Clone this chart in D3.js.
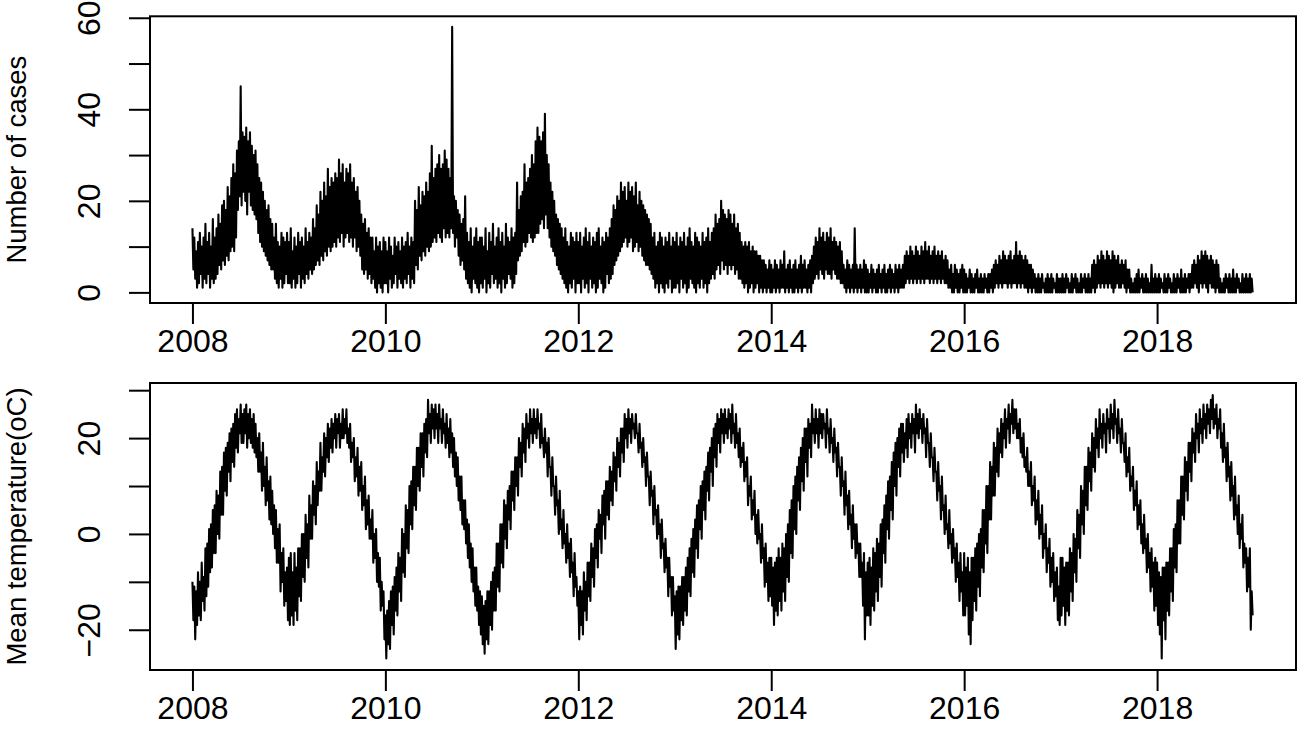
<!DOCTYPE html>
<html><head><meta charset="utf-8">
<script src="https://cdn.jsdelivr.net/npm/d3@7"></script>
<style>body{margin:0;background:#fff} svg{display:block}</style>
</head><body><svg id="c" width="1300" height="745"></svg>
<script>
// Weekly high / low readings (52 weeks per year) starting 2008
const startYear = 2008, perYear = 52;

const casesHigh = [
// 2008
14,12,9,11,13,10,12,15,11,13,10,16,12,14, 17,15,19,20,18,23,21,25,28,26, 31,33,45,35,34,36,33,35,32,30,31, 28,25,24,22,20,18,19,16,15, 12,15,11,10,13,12,11,13,
// 2009
11,14,9,12,10,13,11,12,10,14,11,13,12, 16,14,19,17,22,20,24,21,27,23,25,24,26, 25,29,26,28,24,27,26,28,24,25,22,23,20, 17,15,16,13,14,12,12, 9,12,10,11,9,12,
// 2010
11,9,12,10,8,12,10,11,9,12,10,11,13,10,12,11, 20,18,23,19,22,21,24,22,26,32,25,27,28,30,27,28,31,29,27,25, 58, 21,20,18,17,15,16, 21,13,11,14,10,12,14,11,12,
// 2011
12,10,14,9,13,11,15,10,12,14,11,13,10,15,12,11,14,12,13, 24,18,21,22,28,24,25,27,30,28,33, 36,34,33,35,39,30,28, 24,22,20,17,16,15,14, 12,14,11,10,13,12,11,13,
// 2012
11,13,10,12,14,11,13,10,12,11,13,14,10,12,11,13,12,14, 16,19,18,21,20,24,22,23,20,24,22,23,21,24,19,22,20,19,18,17,16,15, 12,13,10,11,13,12,10,12,11,13,10,12,
// 2013
11,13,10,12,11,13,10,12,14,11,10,13,12,11,10,13,11,12,14,11,13,14, 17,15,16,20,18,17,16,18,17,15,17,14,15,13, 11,10,11,10,11,9,10,9,9,8,8,7,7, 6,5,7,
// 2014
6,5,7,6,5,7,6,9,5,6,7,5,6,7,5,6,8,6,7,5,6,7,8, 10,12,11,14,12,13,11,13,12,14,11,12,11,10,11,9, 6,5,7,6,5,6,14,6,5,6,5,7,6,
// 2015
5,4,6,5,4,5,6,4,5,6,4,5,6,5,4,6,5,6,5,6, 8,9,8,10,9,8,10,9,8,10,9,11,9,10,8,9,10,8,9,8,9,7,8,7, 5,6,4,6,5,4,5,6,
// 2016
5,4,3,5,4,3,4,5,3,4,3,4,3,4,4,5, 6,7,6,8,7,9,8,7,8,9,7,8,11,8,9,8,7,8,7,6,6,5, 4,3,4,3,4,2,3,4,3,4,3,2,4,3,
// 2017
3,4,3,4,3,2,4,3,4,3,2,4,3,4,3,4,3, 6,7,6,8,7,9,8,7,9,8,7,9,8,7,8,6,7,6,7,5,5, 3,2,3,4,5,3,4,3,4,3,2,6,3,4,
// 2018
3,4,3,2,4,3,4,3,2,4,3,4,3,5,3,4,3,4,4, 6,7,6,8,7,9,8,9,8,7,8,7,6,7,6, 3,2,3,4,3,4,3,5,3,4,3,2,4,3,4,3,4,3
];

const casesLow = [
// 2008
5,3,1,2,4,1,3,2,4,1,3,2,3,4, 6,5,7,6,8,7,9,10,9,12, 18,21,19,22,20,17,22,19,18,17,16, 13,11,10,9,8,7,6,5,5, 3,2,1,3,1,2,4,2,
// 2009
2,1,3,1,2,4,1,3,2,4,3,5,4, 5,6,7,6,8,7,9,8,10,9,10,11,10, 12,11,13,10,12,13,11,12,10,12,9,10,8, 5,4,5,3,4,2,3, 1,0,2,1,0,2,
// 2010
2,0,3,1,2,4,1,3,2,1,3,2,4,1,3,2, 6,5,8,7,9,8,10,9,10,11,12,11,13,12,11,14,12,13,12,14, 13, 10,12,8,6,7,5, 3,2,1,0,3,2,1,0,2,
// 2011
1,3,0,2,1,4,2,3,1,2,0,3,1,2,4,3,1,2,4, 7,8,9,11,10,11,13,12,11,12,13, 13,15,16,14,17,14,12, 10,9,8,6,5,4,3, 2,1,0,2,1,3,0,2,
// 2012
2,0,3,1,2,0,3,1,2,0,1,3,2,0,1,4,2,3, 4,6,7,8,9,10,11,12,10,11,12,9,10,11,9,10,8,7,6,6,5,4, 3,1,2,0,2,1,0,2,1,3,0,1,
// 2013
1,2,0,3,1,2,0,1,3,2,1,0,2,1,3,1,2,0,2,3,4,3, 5,6,4,7,5,6,4,6,5,6,4,5,3,3, 2,1,2,0,1,2,0,1,2,0,1,0,1, 0,1,0,
// 2014
0,1,0,1,0,1,1,0,1,0,1,0,0,1,0,1,0,1,1,0,1,0,2, 3,4,3,5,4,3,5,4,4,3,5,4,3,3,2,2, 1,0,1,0,1,0,1,0,1,0,1,0,0,
// 2015
0,1,0,1,0,0,1,0,1,0,0,1,0,1,0,1,0,1,1,1, 2,3,2,3,2,3,2,3,2,3,2,3,3,2,3,2,3,2,3,2,3,2,2,1, 1,0,0,1,0,0,1,0,
// 2016
0,0,1,0,0,0,1,0,0,0,0,1,0,0,1,0, 1,2,1,2,1,2,2,1,2,1,2,2,1,2,1,2,1,1,0,1,0,1, 0,0,0,0,1,0,0,0,0,0,1,0,0,0,
// 2017
0,0,0,1,0,0,0,1,0,0,0,0,1,0,0,0,0, 1,0,1,2,1,2,1,2,1,2,1,0,1,2,1,1,2,1,0,1,0, 0,0,0,0,0,1,0,0,0,0,0,0,0,0,
// 2018
0,0,1,0,0,0,1,0,0,0,0,1,0,0,0,0,1,0,1, 1,2,1,0,2,1,2,1,0,2,1,1,0,1,0, 0,0,0,1,0,0,0,0,0,1,0,0,0,0,0,0,0,0
];

const tempHigh = [
// 2008
-10,-11,-12,-8,-10,-6,-9,-3, -2,1,2,5,6,9,8,13, 14,17,18,19,21,22,23,25, 26,24,27,25,26,27,25,26,24, 25,23,20,21,17,19,14,16,11,12, 9,6,5,1,2,-4,-3,-8,-7,
// 2009
-5,-4,-8,-4,-7,-3, -3,0,0,4,2,8,6,11,10, 15,13,19,16,21,20,23,22,24, 23,25,24,25,23,26,24,26,22, 23,19,20,16,18,14,15,10,12,7, 8,3,5,0,1,-4,-5,-10,-12,
// 2010
-17,-16,-14,-12,-11,-9,-7, -4,-5,1,0,6,5,10, 11,14,14,18,18,21,21, 23,24,28,25,27,26,27, 25,27,24,26,23,25,22,24,21, 20,17,16,12,12,7,7, 3,2,-2,-3,-7,-7,-11,-12,
// 2011
-13,-15,-14,-12,-12,-10,-8, -7,-2,-2,2,2,7,6, 9,10,13,13,16,16,20, 19,23,22,25,23,26,24, 26,24,26,23,25,20,22, 19,20,14,16,10,12,7,9,3, 5,0,2,-2,-1,-6,-4,-9,
// 2012
-12,-11,-12,-8,-10,-6,-6, -2,-3,1,2,5,4,8, 9,11,11,14,13,17,16, 20,19,22,22,25,24,26, 24,25,23,25,21,23,19, 20,16,17,12,13,9,10,5,6, 2,3,-2,-1,-5,-5,-9,-9,
// 2013
-13,-12,-11,-11,-9,-9,-7, -5,-3,-1,1,3,6,7, 10,11,13,14,17,18,20, 22,23,25,24,26,25,26, 24,26,25,27,23,25,21, 22,18,19,15,16,10,12,7,9, 4,5,0,2,-3,-2,-6,-5,
// 2014
-5,-7,-6,-5,-3,-5,-2, -3,0,2,5,7,10,12, 14,16,18,20,22,22,24, 23,27,24,26,24,26,25, 25,23,26,22,24,20,22, 18,19,14,16,11,13,8,9,4, 6,2,2,-2,-2,-6,-4,-8,
// 2015
-6,-5,-7,-3,-4,-1,-2, 2,3,6,8,11,12,15, 17,19,20,22,23,23,21, 24,25,23,25,24,27,25, 26,24,25,22,24,19,21, 16,18,13,15,10,12,6,8,2, 5,0,1,-3,-2,-6,-4,-8,
// 2016
-4,-7,-5,-8,-5,-5,-3, -2,0,1,5,5,10,10, 15,14,19,18,22,21,24, 23,26,24,27,25,28,26, 26,23,24,20,21,16,18, 13,15,10,12,7,9,4,6,0, 2,-3,-1,-5,-4,-8,-7,-11,
// 2017
-5,-5,-7,-6,-6,-3,-4, 0,-1,5,4,10,9,14, 14,18,17,21,20,24,22, 26,23,25,23,26,24,27, 25,28,24,26,22,24,19, 21,16,18,12,14,9,11,6,7, 2,4,-1,0,-4,-3,-6,-5,
// 2018
-6,-8,-9,-7,-7,-6,-6, -3,-3,1,2,7,7,12, 12,16,15,19,19,22,21, 25,23,26,24,27,25,27, 26,28,29,26,27,24,26, 21,23,18,19,14,15,10,12,6, 8,2,4,-2,-3,-5,-3,-12
];

const tempLow = [
// 2008
-18,-22,-19,-17,-18,-14,-16,-13, -11,-8,-7,-4,-4,0,-1,4, 4,9,8,13,11,15,14,18, 17,21,19,19,21,18,20,19,18, 17,16,13,13,9,10,6,7,3,2, 0,-3,-6,-6,-12,-10,-15,-14,-18,
// 2009
-19,-17,-19,-16,-18,-13, -14,-9,-10,-5,-7,-1,-1,4,2, 6,9,9,13,12,16,15,18,17, 20,18,21,18,20,20,21,19,18, 15,16,11,12,8,9,5,6,1,2, -1,-1,-6,-5,-10,-11,-16,-15,-22,
// 2010
-26,-23,-24,-19,-21,-16,-17, -12,-14,-8,-9,-3,-4,2, 1,6,5,10,9,14,12, 17,16,21,19,22,20,22, 19,22,19,21,18,19,16,17,14, 12,10,7,5,2,1,-2, -5,-7,-10,-12,-15,-16,-19,-21,
// 2011
-23,-25,-22,-23,-19,-20,-16, -16,-11,-12,-6,-7,-1,-3, 3,1,7,5,10,8,14, 12,17,15,20,18,21,19, 21,20,22,18,19,16,17, 12,14,8,10,4,6,0,1,-3, -2,-6,-5,-9,-8,-13,-11,-15,
// 2012
-22,-19,-21,-16,-18,-13,-14, -9,-11,-5,-7,-1,-4,2, -1,4,3,7,6,11,9, 14,12,17,15,20,18,21, 19,22,20,21,17,18,14, 15,10,12,6,8,2,4,-1,0, -5,-3,-8,-7,-13,-11,-17,-16,
// 2013
-24,-21,-22,-18,-19,-16,-17, -12,-13,-8,-9,-3,-5,1, -1,5,3,9,7,13,10, 16,14,19,17,21,19,21, 20,22,19,21,18,19,16, 14,15,11,12,6,8,3,4,0, -2,-1,-6,-5,-11,-10,-14,-13,
// 2014
-15,-19,-16,-17,-14,-16,-12, -14,-9,-10,-4,-5,1,0, 7,5,11,9,15,12,18, 16,21,19,21,18,21,20, 22,18,21,17,19,15,17, 12,14,8,10,4,6,1,2,-3, -1,-5,-4,-9,-9,-15,-22,-17,
// 2015
-17,-19,-15,-16,-12,-14,-9, -11,-4,-6,1,-1,5,3, 10,8,14,12,17,15,18, 16,20,18,21,17,21,20, 22,19,21,16,19,14,16, 11,13,7,9,3,5,0,1,-3, -2,-6,-5,-10,-9,-14,-12,-17,
// 2016
-17,-15,-21,-23,-18,-14,-16, -11,-13,-7,-8,-2,-4,3, 3,8,8,13,12,17,16, 20,18,22,19,23,21,22, 20,20,17,16,14,13,10, 10,6,7,2,3,-1,0,-5,-3, -8,-6,-11,-10,-14,-13,-18,-19,
// 2017
-17,-15,-19,-16,-17,-12,-14, -8,-10,-3,-5,2,0,6, 5,11,9,14,13,18,16, 20,18,21,17,22,19,22, 20,23,19,21,17,19,15, 12,13,9,10,5,6,1,2,-2, -4,-3,-8,-7,-12,-11,-16,-15,
// 2018
-19,-21,-26,-18,-22,-16,-17, -12,-14,-7,-8,-2,-2,4, 3,9,7,13,11,17,15, 20,17,21,19,22,20,23, 21,24,22,23,20,22,18, 15,16,11,12,7,8,3,4,0, -3,-1,-7,-6,-12,-11,-20,-17
];

const yearTicks = [2008, 2010, 2012, 2014, 2016, 2018];
const caseTicks = [0, 10, 20, 30, 40, 50, 60];
const caseLabels = [0, 20, 40, 60];
const tempTicks = [-20, -10, 0, 10, 20, 30];
const tempLabels = [-20, 0, 20];
const caseTitle = "Number of cases";
const tempTitle = "Mean temperature(oC)";

const svg = d3.select("#c");
const font = "'Liberation Sans', Arial, Helvetica, sans-serif";
const L = 150, R = 1296;
const x = d3.scaleLinear().domain([2007.56, 2019.44]).range([L, R]);
const timeOf = i => startYear + i / perYear;
const fmt = d3.format("d");

function panel(high, low, top, bottom, domain, ticks, labels, title) {
  const y = d3.scaleLinear().domain(domain).range([bottom, top]);
  const g = svg.append("g");

  // weekly high then low reading, in time order
  const pts = d3.range(high.length).flatMap(i => [
    [timeOf(i), high[i]], [timeOf(i + 0.5), low[i]]
  ]);
  g.append("path").datum(pts)
    .attr("d", d3.line().x(d => x(d[0])).y(d => y(d[1])))
    .attr("fill", "none").attr("stroke", "#000")
    .attr("stroke-width", 2.1).attr("stroke-linejoin", "round");

  g.append("rect").attr("x", L).attr("y", top)
    .attr("width", R - L).attr("height", bottom - top)
    .attr("fill", "none").attr("stroke", "#000").attr("stroke-width", 2);

  const ya = g.append("g").attr("transform", `translate(${L},0)`)
    .call(d3.axisLeft(y).tickValues(ticks).tickSize(21)
      .tickFormat(d => labels.includes(d) ? fmt(d) : ""));
  ya.select(".domain").remove();
  ya.selectAll("line").attr("stroke", "#000").attr("stroke-width", 2);
  ya.selectAll("text").attr("x", null).attr("dy", null)
    .attr("text-anchor", "middle").attr("fill", "#000")
    .attr("font-family", font).attr("font-size", 32)
    .attr("transform", "translate(-50,0) rotate(-90)");

  const xa = g.append("g").attr("transform", `translate(0,${bottom})`)
    .call(d3.axisBottom(x).tickValues(yearTicks).tickSize(21).tickFormat(fmt));
  xa.select(".domain").remove();
  xa.selectAll("line").attr("stroke", "#000").attr("stroke-width", 2);
  xa.selectAll("text").attr("y", 49).attr("dy", null).attr("fill", "#000")
    .attr("font-family", font).attr("font-size", 32);

  g.append("text").text(title)
    .attr("transform", `translate(25.5,${(top + bottom) / 2}) rotate(-90)`)
    .attr("text-anchor", "middle").attr("font-family", font)
    .attr("font-size", 27.5).attr("fill", "#000");
}

panel(casesHigh, casesLow, 16.3, 303, [-2.32, 60.32], caseTicks, caseLabels, caseTitle);
panel(tempHigh, tempLow, 383, 670, [-28.4, 31.5], tempTicks, tempLabels, tempTitle);
</script></body></html>
